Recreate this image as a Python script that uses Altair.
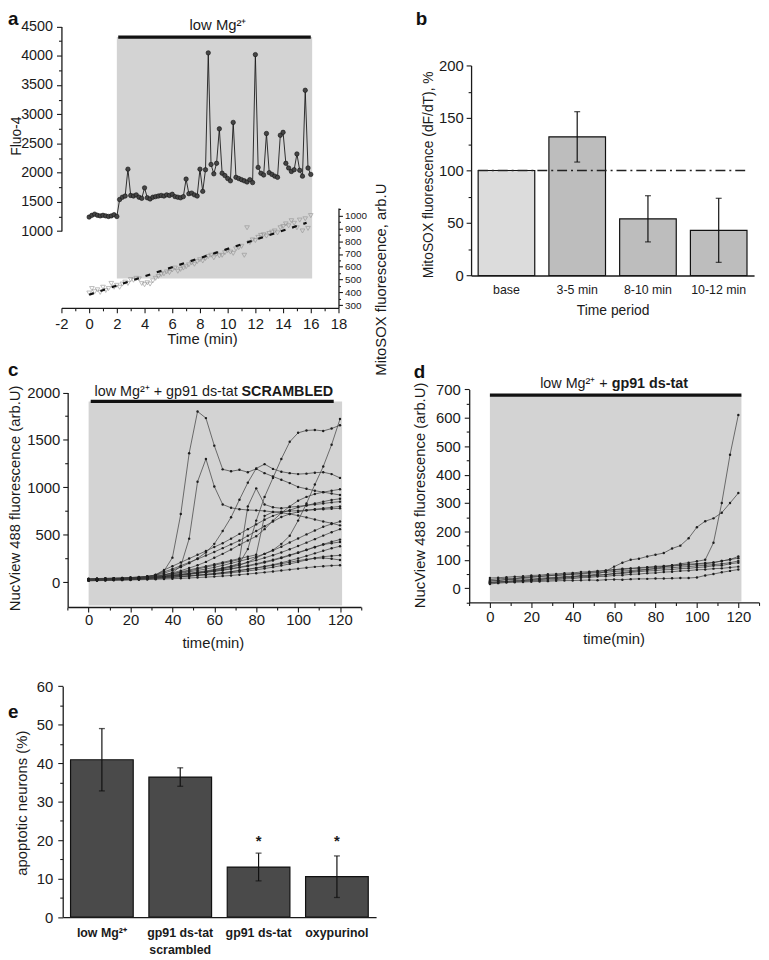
import altair as alt
import pandas as pd

# ======================= DATA =======================
# (a) Fluo-4 trace and MitoSOX trace (time in min)
FLUO_T = [0.0, 0.2, 0.4, 0.6, 0.8, 1.0, 1.2, 1.4, 1.6, 1.8,
          2.0, 2.2, 2.4, 2.6, 2.8, 3.0, 3.2, 3.4, 3.6, 3.8,
          4.0, 4.2, 4.4, 4.6, 4.8, 5.0, 5.2, 5.4, 5.6, 5.8,
          6.0, 6.2, 6.4, 6.6, 6.8, 7.0, 7.2, 7.4, 7.6, 7.8,
          8.0, 8.2, 8.4, 8.6, 8.8, 9.0, 9.2, 9.4, 9.6, 9.8,
          10.0, 10.2, 10.4, 10.6, 10.8, 11.0, 11.2, 11.4, 11.6, 11.8,
          12.0, 12.2, 12.4, 12.6, 12.8, 13.0, 13.2, 13.4, 13.6, 13.8,
          14.0, 14.2, 14.4, 14.6, 14.8, 15.0, 15.2, 15.4, 15.6, 15.8,
          16.0]
FLUO_V = [1240, 1270, 1290, 1270, 1260, 1270, 1260, 1250, 1260, 1280,
          1250, 1540, 1580, 1600, 2060, 1610, 1600, 1620, 1580, 1560,
          1740, 1570, 1550, 1580, 1590, 1600, 1610, 1600, 1620, 1610,
          1630, 1590, 1580, 1570, 1590, 1890, 1640, 1650, 1620, 1600,
          2060, 1680, 2050, 4050, 2140, 1980, 2160, 2750, 1990, 1950,
          1900, 1860, 2860, 1920, 1900, 1880, 1860, 1840, 1880, 1830,
          4020, 2090, 1990, 1960, 2670, 2000, 1970, 1940, 1920, 2640,
          2690, 2160, 2080, 2020, 2050, 2320, 2040, 1940, 3410, 2080,
          1970]
MITO_V = [395, 430, 405, 420, 400, 440, 415, 430, 470, 440,
          455, 440, 465, 480, 470, 500, 495, 510, 505, 470,
          460, 475, 465, 490, 510, 525, 540, 545, 560, 555,
          575, 590, 565, 580, 590, 600, 615, 630, 620, 640,
          655, 645, 665, 680, 690, 670, 700, 685, 690, 710,
          725, 715, 705, 740, 750, 760, 690, 905, 790, 810,
          805, 830, 845, 850, 840, 860, 870, 880, 865, 905,
          915, 935, 920, 960, 940, 905, 965, 880, 975, 900,
          1000]
MITO_FIT_T = [0.0, 15.7]
MITO_FIT_V = [382, 944]
A_PERIOD = [2.0, 16.1]      # low Mg2+ period (min)
A_SHADE = [190, 4320]       # shaded band, Fluo-4 units

# (b) MitoSOX slope
B_CATS = ["base", "3-5 min", "8-10 min", "10-12 min"]
B_VALS = [100, 132, 54, 43]
B_ERR = [0, 24, 22, 30.5]
B_REF = 100

# (c) NucView traces, scrambled peptide
C_T = [0, 4, 8, 12, 16, 20, 24, 28, 32, 36, 40, 44, 48, 52, 56, 60,
       64, 68, 72, 76, 80, 84, 88, 92, 96, 100, 104, 108, 112, 116, 120]
C01 = [30, 32, 36, 38, 41, 46, 52, 60, 78, 120, 260, 720, 1360, 1800, 1730, 1440, 1190, 1170, 1185, 1160, 1195, 1150, 1115, 1080, 1045, 1005, 985, 965, 950, 935, 920]
C02 = [25, 27, 31, 33, 36, 41, 45, 52, 61, 76, 102, 170, 460, 1060, 1300, 1010, 820, 785, 770, 762, 758, 752, 742, 733, 720, 703, 684, 662, 641, 622, 600]
C03 = [35, 37, 40, 43, 46, 50, 56, 63, 76, 96, 126, 160, 202, 252, 315, 405, 540, 685, 870, 1050, 1200, 1245, 1195, 1165, 1150, 1140, 1145, 1155, 1160, 1140, 1100]
C04 = [30, 33, 35, 38, 40, 43, 46, 50, 56, 62, 70, 80, 90, 101, 114, 130, 150, 172, 200, 350, 650, 900, 1100, 1300, 1480, 1575, 1600, 1605, 1595, 1620, 1655]
C05 = [28, 30, 32, 35, 38, 41, 44, 48, 55, 62, 70, 80, 90, 100, 112, 125, 140, 160, 180, 212, 258, 300, 340, 405, 490, 650, 830, 1030, 1220, 1450, 1720]
C06 = [38, 40, 42, 44, 47, 50, 55, 62, 70, 80, 90, 105, 120, 140, 160, 180, 200, 220, 240, 800, 990, 820, 790, 780, 792, 800, 812, 820, 830, 842, 850]
C07 = [32, 34, 36, 38, 41, 44, 48, 54, 62, 78, 100, 122, 150, 180, 215, 258, 300, 345, 395, 440, 485, 560, 650, 730, 800, 860, 900, 930, 950, 965, 980]
C08 = [26, 28, 31, 34, 37, 41, 46, 55, 80, 130, 170, 210, 250, 290, 330, 372, 412, 460, 510, 560, 610, 660, 700, 732, 760, 790, 810, 830, 850, 868, 880]
C09 = [30, 32, 34, 37, 40, 44, 50, 58, 75, 110, 140, 175, 210, 245, 282, 320, 360, 400, 440, 490, 540, 590, 640, 688, 720, 742, 758, 770, 780, 790, 800]
C10 = [24, 26, 28, 31, 34, 37, 41, 46, 52, 60, 90, 110, 130, 150, 170, 190, 210, 230, 250, 270, 290, 700, 740, 745, 750, 755, 760, 765, 770, 775, 780]
C11 = [22, 24, 26, 28, 31, 34, 38, 43, 50, 60, 80, 95, 110, 125, 140, 158, 178, 200, 222, 245, 270, 300, 335, 375, 420, 462, 505, 545, 585, 615, 640]
C12 = [20, 22, 24, 26, 28, 31, 35, 40, 47, 55, 70, 82, 95, 108, 120, 135, 150, 168, 188, 210, 232, 258, 285, 315, 348, 382, 418, 455, 492, 528, 560]
C13 = [28, 30, 32, 34, 36, 39, 42, 46, 52, 58, 65, 74, 84, 95, 105, 115, 127, 140, 155, 170, 188, 208, 230, 255, 282, 310, 340, 370, 400, 428, 450]
C14 = [18, 20, 22, 24, 26, 28, 31, 34, 38, 44, 50, 58, 66, 74, 82, 90, 100, 112, 125, 138, 152, 168, 186, 206, 228, 252, 278, 305, 332, 358, 380]
C15 = [24, 26, 27, 29, 31, 33, 36, 39, 43, 48, 54, 60, 66, 72, 78, 84, 92, 100, 110, 120, 132, 145, 160, 176, 194, 214, 236, 256, 270, 278, 285]
C16 = [15, 17, 19, 21, 23, 25, 27, 29, 32, 35, 38, 42, 46, 50, 55, 60, 66, 72, 80, 88, 96, 105, 114, 124, 134, 144, 154, 163, 170, 176, 180]
C17 = [26, 28, 30, 32, 34, 37, 40, 44, 48, 53, 58, 64, 70, 77, 85, 93, 102, 112, 124, 137, 150, 165, 180, 196, 212, 228, 242, 252, 256, 248, 235]
C18 = [34, 36, 38, 40, 43, 46, 50, 55, 60, 66, 72, 80, 88, 97, 107, 118, 130, 144, 160, 177, 196, 216, 238, 262, 288, 315, 343, 372, 398, 412, 425]
C_PERIOD = [0, 121]
C_SHADE = [-245, 1905]

# (d) NucView traces, gp91 ds-tat
D_T = C_T
D1 = [25, 27, 30, 31, 33, 32, 35, 37, 38, 41, 42, 45, 46, 50, 60, 76, 90, 100, 104, 112, 118, 124, 140, 150, 176, 215, 236, 246, 266, 300, 335]
D2 = [20, 22, 24, 25, 27, 28, 30, 33, 34, 36, 39, 40, 42, 45, 48, 52, 55, 58, 62, 66, 70, 75, 80, 86, 90, 95, 100, 160, 300, 470, 610]
D3 = [15, 18, 20, 21, 22, 23, 24, 25, 26, 27, 27, 28, 29, 28, 30, 31, 30, 32, 33, 33, 34, 34, 35, 36, 36, 38, 45, 50, 56, 61, 66]
D4 = [30, 33, 35, 35, 38, 41, 42, 45, 44, 47, 49, 50, 53, 55, 56, 59, 61, 62, 65, 67, 68, 71, 72, 75, 76, 79, 81, 83, 86, 90, 96]
D5 = [20, 23, 24, 27, 28, 31, 32, 35, 36, 39, 40, 43, 44, 47, 48, 51, 52, 56, 58, 61, 62, 65, 66, 69, 70, 73, 75, 79, 80, 86, 90]
D6 = [26, 28, 31, 33, 37, 38, 41, 43, 47, 48, 51, 52, 56, 58, 63, 65, 69, 70, 73, 74, 77, 78, 81, 82, 85, 86, 89, 90, 96, 101, 112]
D7 = [18, 21, 22, 24, 24, 26, 27, 29, 30, 33, 34, 37, 38, 41, 42, 45, 46, 49, 50, 53, 54, 57, 58, 61, 62, 65, 66, 69, 70, 73, 76]
D8 = [36, 37, 39, 41, 42, 45, 46, 49, 50, 53, 54, 57, 58, 61, 62, 65, 66, 69, 70, 73, 74, 77, 78, 81, 82, 85, 86, 91, 96, 101, 106]
D_PERIOD = [0, 121.5]
D_SHADE = [-47, 680]

# (e) apoptotic neurons
E_CATS = ["low Mg²⁺", "gp91 ds-tat|scrambled", "gp91 ds-tat", "oxypurinol"]
E_VALS = [40.9, 36.4, 13.0, 10.5]
E_ERR = [8.1, 2.4, 3.6, 5.4]
E_SIG = ["", "", "*", "*"]
E_SIG_LEVEL = 19.8

# ======================= TABLES =======================
ONE = pd.DataFrame({"k": [0]})
fluo_df = pd.DataFrame({"t": FLUO_T, "v": FLUO_V})
mito_df = pd.DataFrame({"t": FLUO_T, "v": MITO_V})
fit_df = pd.DataFrame({"t": MITO_FIT_T, "v": MITO_FIT_V})
b_df = pd.DataFrame({"cat": B_CATS, "val": B_VALS, "err": B_ERR})
b_df["lo"] = b_df["val"] - b_df["err"]
b_df["hi"] = b_df["val"] + b_df["err"]
b_err_df = b_df[b_df["err"] > 0]

c_series = {"c01": C01, "c02": C02, "c03": C03, "c04": C04, "c05": C05, "c06": C06,
            "c07": C07, "c08": C08, "c09": C09, "c10": C10, "c11": C11, "c12": C12,
            "c13": C13, "c14": C14, "c15": C15, "c16": C16, "c17": C17, "c18": C18}
c_df = pd.DataFrame([{"id": k, "t": t, "v": v} for k, vals in c_series.items()
                     for t, v in zip(C_T, vals)])
d_series = {"d1": D1, "d2": D2, "d3": D3, "d4": D4, "d5": D5, "d6": D6, "d7": D7, "d8": D8}
d_df = pd.DataFrame([{"id": k, "t": t, "v": v} for k, vals in d_series.items()
                     for t, v in zip(D_T, vals)])
e_df = pd.DataFrame({"cat": E_CATS, "val": E_VALS, "err": E_ERR, "sig": E_SIG})
e_df["lo"] = e_df["val"] - e_df["err"]
e_df["hi"] = e_df["val"] + e_df["err"]

# ======================= LAYOUT =======================
FONT = "Liberation Sans"
INK = "#1a1a1a"
W, H = 761, 952
M = 8  # page margin


def p(v):
    return v - M


def lin(domain, r0, r1):
    return alt.Scale(domain=domain, range=[p(r0), p(r1)], nice=False, zero=False)


SA_X = lin([-2, 18], 62, 342)
SA_F = lin([1000, 4500], 228.4, 21.7)
SA_M = lin([279, 1060], 306, 205)
SB_X = alt.Scale(domain=B_CATS, range=[p(476), p(762)], paddingInner=0.2, paddingOuter=0.1)
SB_Y = lin([0, 200], 273.3, 61)
SC_X = lin([-10, 130], 68.3, 364.7)
SC_Y = lin([-260, 2000], 608.3, 391.5)
SD_X = lin([-10, 130], 474.1, 767)
SD_Y = lin([-50, 700], 603.7, 388.4)
SE_X = alt.Scale(domain=E_CATS, range=[p(63.3), p(380)], paddingInner=0.2, paddingOuter=0.1)
SE_Y = lin([0, 60], 921.7, 688.4)


def lin_axis(orient, offset, values, major, size=15, pad=3, tmaj=5, tmin=3,
             title="", tx=0, ty=0, tangle=0, tsize=15):
    test = f"datum.value % {major} == 0"
    return alt.Axis(orient=orient, offset=offset, values=values,
                    labelExpr=f"{test} ? '' + datum.value : ''",
                    tickSize={"condition": {"test": test, "value": tmaj}, "value": tmin},
                    labelFontSize=size, labelPadding=pad, labelOverlap=False, labelFlush=False,
                    title=title, titleX=tx, titleY=ty, titleAngle=tangle, titleFontSize=tsize,
                    titleAlign="center", titleBaseline="middle", grid=False, zindex=1)


AX_A_X = lin_axis("bottom", p(306) - H, list(range(-2, 19)), 2, pad=4,
                  title="Time (min)", tx=196, ty=30.7)
AX_A_F = lin_axis("left", -p(62), list(range(1000, 4501, 250)), 500, size=14.5, pad=4,
                  title="Fluo-4", tx=-45.5, ty=124, tangle=270, tsize=14)
AX_A_M = lin_axis("right", p(342) - W, list(range(300, 1051, 50)), 100, size=10, pad=2,
                  tmaj=4, tmin=2, title="MitoSOX fluorescence, arb.U", tx=43, ty=269, tangle=270)
AX_B_Y = lin_axis("left", -p(476), list(range(0, 201, 25)), 50, pad=3,
                  title="MitoSOX fluorescence (dF/dT), %", tx=-43, ty=163, tangle=270, tsize=14)
AX_C_X = lin_axis("bottom", p(608.3) - H, list(range(-10, 131, 10)), 20, pad=1,
                  title="time(min)", tx=207, ty=35.7)
AX_C_Y = lin_axis("left", -p(68.3), list(range(0, 2001, 250)), 500, pad=3,
                  title="NucView 488 fluorescence (arb.U)", tx=-53.3, ty=490, tangle=270)
AX_D_X = lin_axis("bottom", p(603.7) - H, list(range(-10, 131, 10)), 20, pad=2,
                  title="time(min)", tx=612, ty=36.3)
AX_D_Y = lin_axis("left", -p(474.1), list(range(-50, 701, 50)), 100, pad=4,
                  title="NucView 488 fluorescence (arb.U)", tx=-50.1, ty=487, tangle=270)
AX_E_Y = lin_axis("left", -p(63.3), list(range(0, 61, 5)), 10, pad=5,
                  title="apoptotic neurons (%)", tx=-41.6, ty=798, tangle=270)
AX_B_X = alt.Axis(orient="bottom", offset=p(273.3) - H, ticks=False, tickSize=0,
                  labelFontSize=12.5, labelPadding=8, labelAngle=0, grid=False, zindex=1,
                  title="Time period", titleX=611, titleY=35.7, titleFontSize=14,
                  titleAlign="center", titleBaseline="middle")
AX_E_X = alt.Axis(orient="bottom", offset=p(921.7) - H, ticks=False, tickSize=0,
                  labelFontSize=12.5, labelFontWeight="bold", labelPadding=10, labelLineHeight=17,
                  labelExpr="split(datum.label, '|')", labelAngle=0, grid=False, zindex=1,
                  title=None)

layers = []

# ---------------- panel a ----------------
layers.append(alt.Chart(ONE).mark_rect(color="#d3d3d3").encode(
    x=alt.XDatum(A_PERIOD[0], scale=SA_X, axis=None), x2=alt.X2Datum(A_PERIOD[1]),
    y=alt.YDatum(A_SHADE[0], scale=SA_F, axis=None), y2=alt.Y2Datum(A_SHADE[1])))
layers.append(alt.Chart(ONE).mark_rule(color="#111", strokeWidth=3.3).encode(
    x=alt.XDatum(A_PERIOD[0] + 0.1, scale=SA_X, axis=None), x2=alt.X2Datum(A_PERIOD[1] - 0.1),
    y=alt.YDatum(A_SHADE[1], scale=SA_F, axis=None)))
layers.append(alt.Chart(mito_df).mark_point(shape="triangle-down", size=22, filled=False,
                                            color="#8c8c8c", strokeWidth=0.8).encode(
    x=alt.X("t:Q", scale=SA_X, axis=None), y=alt.Y("v:Q", scale=SA_M, axis=AX_A_M)))
layers.append(alt.Chart(fit_df).mark_line(color="#111", strokeWidth=2.2, strokeDash=[5, 7]).encode(
    x=alt.X("t:Q", scale=SA_X, axis=None), y=alt.Y("v:Q", scale=SA_M, axis=None)))
layers.append(alt.Chart(fluo_df).mark_line(
    color=INK, strokeWidth=0.9,
    point=alt.OverlayMarkDef(filled=True, fill="#454545", stroke="#111", strokeWidth=0.6, size=20)
).encode(x=alt.X("t:Q", scale=SA_X, axis=AX_A_X), y=alt.Y("v:Q", scale=SA_F, axis=AX_A_F)))
layers.append(alt.Chart(ONE).mark_text(text="low Mg²⁺", fontSize=15, color=INK,
                                       align="center", baseline="middle").encode(
    x=alt.XDatum(9.3, scale=SA_X, axis=None), y=alt.YDatum(4530, scale=SA_F, axis=None)))

# ---------------- panel b ----------------
layers.append(alt.Chart(b_df).mark_bar(stroke="#111", strokeWidth=1.2).encode(
    x=alt.X("cat:N", scale=SB_X, axis=AX_B_X),
    y=alt.Y("val:Q", scale=SB_Y, axis=AX_B_Y),
    fill=alt.condition(alt.datum.cat == "base", alt.value("#dcdcdc"), alt.value("#bdbdbd"))))
layers.append(alt.Chart(ONE).mark_rule(color="#222", strokeWidth=1.5, strokeDash=[10, 4, 2, 4]).encode(
    x=alt.value(p(483)), x2=alt.value(p(757)), y=alt.YDatum(B_REF, scale=SB_Y, axis=None)))
layers.append(alt.Chart(b_err_df).mark_rule(color="#111", strokeWidth=1.2).encode(
    x=alt.X("cat:N", scale=SB_X, axis=None), y=alt.Y("lo:Q", scale=SB_Y, axis=None), y2="hi:Q"))
for col in ("lo", "hi"):
    layers.append(alt.Chart(b_err_df).mark_tick(color="#111", size=6, thickness=1.3).encode(
        x=alt.X("cat:N", scale=SB_X, axis=None), y=alt.Y(f"{col}:Q", scale=SB_Y, axis=None)))

# ---------------- panel c ----------------
layers.append(alt.Chart(ONE).mark_rect(color="#d3d3d3").encode(
    x=alt.XDatum(C_PERIOD[0], scale=SC_X, axis=None), x2=alt.X2Datum(C_PERIOD[1]),
    y=alt.YDatum(C_SHADE[0], scale=SC_Y, axis=None), y2=alt.Y2Datum(C_SHADE[1])))
layers.append(alt.Chart(ONE).mark_rule(color="#111", strokeWidth=3.3).encode(
    x=alt.XDatum(1, scale=SC_X, axis=None), x2=alt.X2Datum(117),
    y=alt.YDatum(C_SHADE[1], scale=SC_Y, axis=None)))
layers.append(alt.Chart(c_df).mark_line(
    color="#3a3a3a", strokeWidth=0.7,
    point=alt.OverlayMarkDef(filled=True, color="#1e1e1e", size=6)
).encode(x=alt.X("t:Q", scale=SC_X, axis=AX_C_X), y=alt.Y("v:Q", scale=SC_Y, axis=AX_C_Y),
         detail="id:N"))
layers.append(alt.Chart(ONE).mark_text(text="low Mg²⁺ + gp91 ds-tat", fontSize=14.5, color=INK,
                                       align="right", baseline="middle").encode(
    x=alt.XDatum(71.2, scale=SC_X, axis=None), y=alt.YDatum(2009, scale=SC_Y, axis=None)))
layers.append(alt.Chart(ONE).mark_text(text="SCRAMBLED", fontSize=14.5, fontWeight="bold", color=INK,
                                       align="left", baseline="middle").encode(
    x=alt.XDatum(73.0, scale=SC_X, axis=None), y=alt.YDatum(2009, scale=SC_Y, axis=None)))

# ---------------- panel d ----------------
layers.append(alt.Chart(ONE).mark_rect(color="#d3d3d3").encode(
    x=alt.XDatum(D_PERIOD[0], scale=SD_X, axis=None), x2=alt.X2Datum(D_PERIOD[1]),
    y=alt.YDatum(D_SHADE[0], scale=SD_Y, axis=None), y2=alt.Y2Datum(D_SHADE[1])))
layers.append(alt.Chart(ONE).mark_rule(color="#111", strokeWidth=3.3).encode(
    x=alt.XDatum(D_PERIOD[0], scale=SD_X, axis=None), x2=alt.X2Datum(D_PERIOD[1]),
    y=alt.YDatum(D_SHADE[1], scale=SD_Y, axis=None)))
layers.append(alt.Chart(d_df).mark_line(
    color="#3a3a3a", strokeWidth=0.7,
    point=alt.OverlayMarkDef(filled=True, color="#1e1e1e", size=6)
).encode(x=alt.X("t:Q", scale=SD_X, axis=AX_D_X), y=alt.Y("v:Q", scale=SD_Y, axis=AX_D_Y),
         detail="id:N"))
layers.append(alt.Chart(ONE).mark_text(text="low Mg²⁺ +", fontSize=14.5, color=INK,
                                       align="right", baseline="middle").encode(
    x=alt.XDatum(56.9, scale=SD_X, axis=None), y=alt.YDatum(718, scale=SD_Y, axis=None)))
layers.append(alt.Chart(ONE).mark_text(text="gp91 ds-tat", fontSize=14.5, fontWeight="bold", color=INK,
                                       align="left", baseline="middle").encode(
    x=alt.XDatum(58.8, scale=SD_X, axis=None), y=alt.YDatum(718, scale=SD_Y, axis=None)))

# ---------------- panel e ----------------
layers.append(alt.Chart(e_df).mark_bar(color="#4a4a4a", stroke="#111", strokeWidth=1.2).encode(
    x=alt.X("cat:N", scale=SE_X, axis=AX_E_X), y=alt.Y("val:Q", scale=SE_Y, axis=AX_E_Y)))
layers.append(alt.Chart(e_df).mark_rule(color="#111", strokeWidth=1.2).encode(
    x=alt.X("cat:N", scale=SE_X, axis=None), y=alt.Y("lo:Q", scale=SE_Y, axis=None), y2="hi:Q"))
for col in ("lo", "hi"):
    layers.append(alt.Chart(e_df).mark_tick(color="#111", size=6, thickness=1.3).encode(
        x=alt.X("cat:N", scale=SE_X, axis=None), y=alt.Y(f"{col}:Q", scale=SE_Y, axis=None)))
layers.append(alt.Chart(e_df).mark_text(fontSize=15, fontWeight="bold", color=INK,
                                        baseline="middle").encode(
    x=alt.X("cat:N", scale=SE_X, axis=None),
    y=alt.YDatum(E_SIG_LEVEL, scale=SE_Y, axis=None), text="sig:N"))

# ---------------- panel letters ----------------
for letter, lx, ly in (("a", 0, 12), ("b", 412, 12), ("c", 0, 367), ("d", 410, 369), ("e", 0, 712)):
    layers.append(alt.Chart(ONE).mark_text(text=letter, fontSize=19, fontWeight="bold", color="#111",
                                           align="left", baseline="alphabetic").encode(
        x=alt.value(lx), y=alt.value(ly)))

chart = alt.layer(*layers).resolve_scale(
    x="independent", y="independent"
).resolve_axis(
    x="independent", y="independent"
).properties(
    width=W, height=H, autosize=alt.AutoSizeParams(type="none"), padding=0, background="white"
).configure_view(stroke=None).configure_axis(
    labelFont=FONT, titleFont=FONT, labelColor=INK, titleColor=INK, titleFontWeight="normal",
    domainColor=INK, tickColor=INK, domainWidth=1.3, tickWidth=1.1
).configure_text(font=FONT)

chart.save("out.html", embed_options={"renderer": "svg", "actions": False})
